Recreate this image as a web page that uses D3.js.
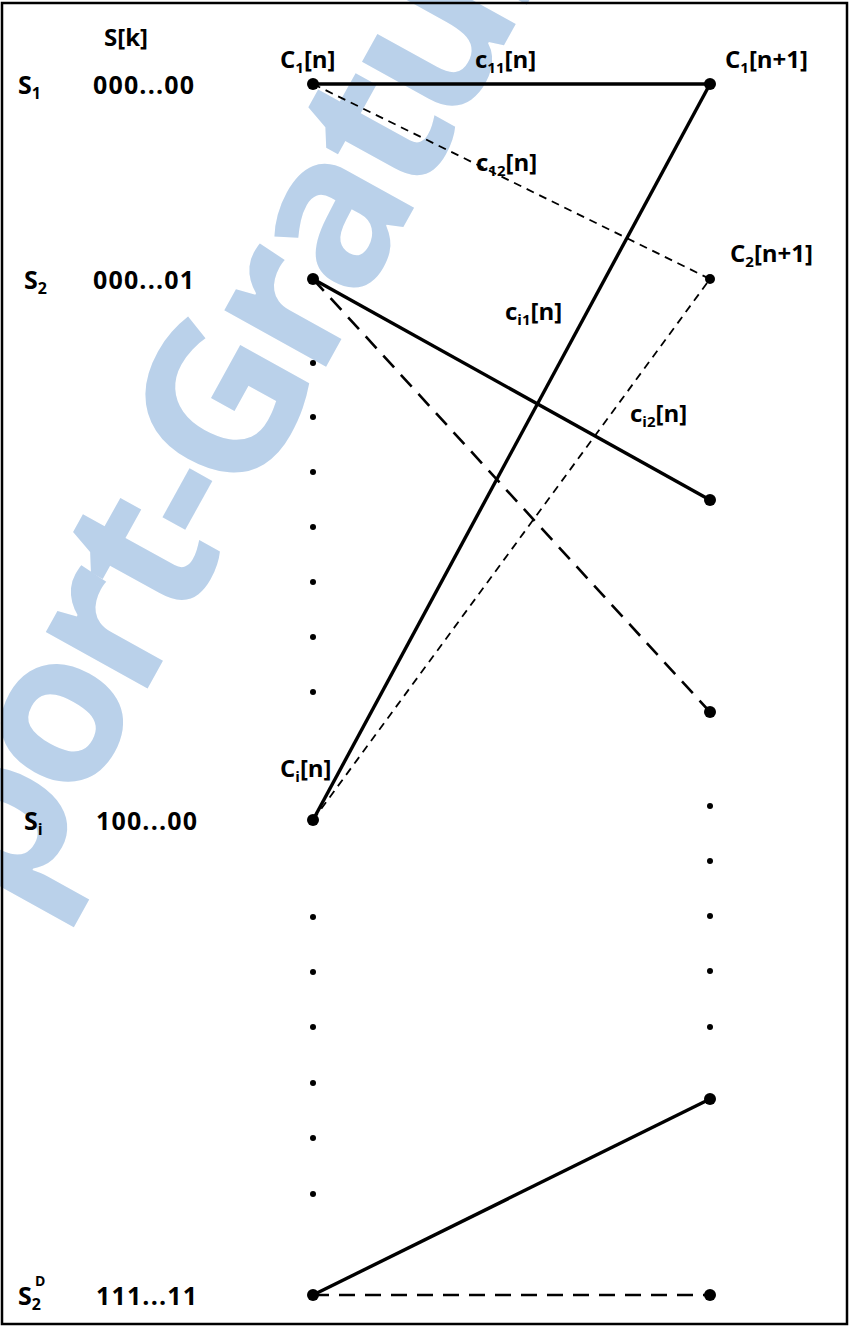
<!DOCTYPE html>
<html>
<head>
<meta charset="utf-8">
<script src="https://cdn.jsdelivr.net/npm/d3@7"></script>
<style>
    body { margin: 0; background: #fff; }
    text { font-family: "Open Sans", Lato, sans-serif; font-weight: bold; fill: #000; }
</style>
</head>
<body>
<div id="trellis"></div>
<script>
// trellis columns (time steps)
const columns = ["n", "n+1"];

// state rows, vertical position in pixel units
const leftNodes = [84, 279, 820, 1295];
const leftDots = [363, 417, 472, 527, 582, 637, 692, 917, 972, 1027, 1083, 1138, 1194];
const rightNodes = [84, 500, 712, 1099, 1295];
const rightSmall = [279];
const rightDots = [806, 861, 916, 971, 1027];

// branches: [from row, to row, style]
const edges = [
    [84, 84, "solid"],
    [84, 279, "thin"],
    [279, 500, "solid"],
    [279, 712, "long"],
    [820, 84, "solid"],
    [820, 279, "thin"],
    [1295, 1099, "solid"],
    [1295, 1295, "long"]
];

// state labels: name, subscript, superscript, bits, row
const states = [
    ["S", "1", "", "000...00", 84],
    ["S", "2", "", "000...01", 279],
    ["S", "i", "", "100...00", 820],
    ["S", "2", "D", "111...11", 1295]
];

// branch / node labels: main, sub, rest, x, y
const labels = [
    ["C", "1", "[n]", 280, 68],
    ["c", "11", "[n]", 475, 68],
    ["C", "1", "[n+1]", 725, 68],
    ["c", "12", "[n]", 476, 171],
    ["C", "2", "[n+1]", 730, 262],
    ["c", "i1", "[n]", 505, 320],
    ["c", "i2", "[n]", 630, 422],
    ["C", "i", "[n]", 280, 777]
];

const width = 850, height = 1328;
const x = d3.scalePoint().domain(columns).range([313, 710]);
const y = d3.scaleLinear().domain([0, height]).range([0, height]);

const svg = d3.select("#trellis").append("svg")
        .attr("width", width)
        .attr("height", height);

// watermark
svg.append("text")
        .text("port-Gratuit.")
        .attr("transform", "translate(21,917) rotate(-61)")
        .style("font-size", "213px")
        .style("letter-spacing", "-11px")
        .style("fill", "#bad1ea");

svg.append("rect")
        .attr("x", 2).attr("y", 3)
        .attr("width", 845).attr("height", 1321)
        .attr("fill", "none")
        .attr("stroke", "#000")
        .attr("stroke-width", 2.5);

const dash = {solid: null, thin: "8,6", long: "16,10"};
const sw = {solid: 3.4, thin: 1.8, long: 2.6};
svg.selectAll(".edge").data(edges).enter().append("line")
        .attr("x1", x("n"))
        .attr("y1", function(d) { return y(d[0]); })
        .attr("x2", x("n+1"))
        .attr("y2", function(d) { return y(d[1]); })
        .attr("stroke", "#000")
        .attr("stroke-width", function(d) { return sw[d[2]]; })
        .attr("stroke-dasharray", function(d) { return dash[d[2]]; });

function dots(col, rows, r) {
    svg.selectAll(null).data(rows).enter().append("circle")
            .attr("cx", x(col))
            .attr("cy", function(d) { return y(d); })
            .attr("r", r)
            .attr("fill", "#000");
}
dots("n", leftNodes, 6);
dots("n", leftDots, 3);
dots("n+1", rightNodes, 6);
dots("n+1", rightSmall, 5);
dots("n+1", rightDots, 3);

svg.append("text").text("S[k]")
        .attr("x", 104).attr("y", 46)
        .style("font-size", "24px");

states.forEach(function(s) {
    const t = svg.append("text")
            .attr("x", s[2] || s[1] === "1" ? 18 : 24)
            .attr("y", y(s[4]) + 10)
            .style("font-size", "25px");
    t.append("tspan").text(s[0]);
    t.append("tspan").text(s[1])
            .attr("dy", 5).style("font-size", "16px");
    if (s[2]) {
        t.append("tspan").text(s[2])
                .attr("dx", -6).attr("dy", -24).style("font-size", "14px");
    }
    svg.append("text").text(s[3])
            .attr("x", s[3][0] === "0" ? 93 : 96)
            .attr("y", y(s[4]) + 10)
            .attr("textLength", 101)
            .style("font-size", "25px");
});

labels.forEach(function(l) {
    const t = svg.append("text")
            .attr("x", l[3])
            .attr("y", l[4])
            .style("font-size", "24px");
    t.append("tspan").text(l[0]);
    t.append("tspan").text(l[1])
            .attr("dy", 5).style("font-size", "15px");
    t.append("tspan").text(l[2])
            .attr("dy", -5);
});
</script>
</body>
</html>
